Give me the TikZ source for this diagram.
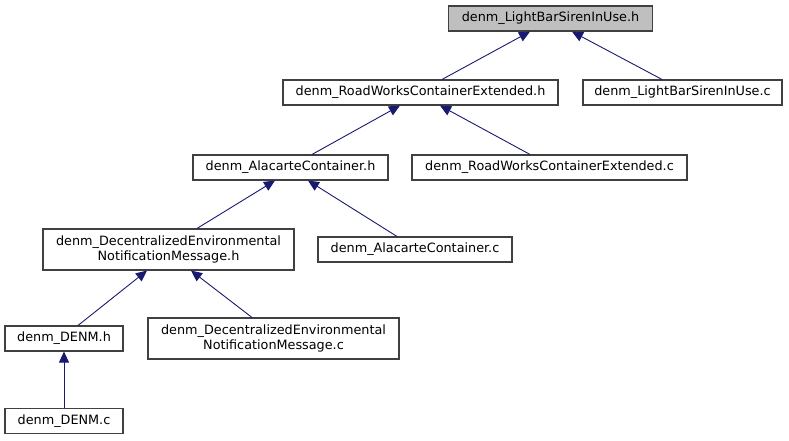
\documentclass[tikz,border=0pt]{standalone}
\usepackage{fontspec}
\setmainfont{DejaVu Sans}
\usetikzlibrary{arrows.meta}
\definecolor{edgeblue}{HTML}{191970}
\definecolor{boxgray}{HTML}{BFBFBF}
\begin{document}
\begin{tikzpicture}[x=1pt,y=-1pt,
  box/.style={draw=black!75,line width=1.1pt,fill=white,inner sep=0pt,align=center,
    font=\fontsize{12.8}{14.8}\selectfont},
  one/.style={box,minimum height=25pt},
  two/.style={box,minimum height=41pt},
  edge/.style={draw=edgeblue,line width=0.9pt,-{Triangle[length=11pt,width=10pt]}}]
\path[use as bounding box] (0,0) rectangle (789,440);
\node[one,fill=boxgray,minimum width=204pt] (top) at (550.5,18.5) {denm\_LightBarSirenInUse.h};
\node[one,minimum width=275pt] (rwceh) at (420.5,92.5) {denm\_RoadWorksContainerExtended.h};
\node[one,minimum width=199pt] (lbsc) at (682.5,92.5) {denm\_LightBarSirenInUse.c};
\node[one,minimum width=195pt] (alach) at (290.5,167.5) {denm\_AlacarteContainer.h};
\node[one,minimum width=275pt] (rwcec) at (549.5,167.5) {denm\_RoadWorksContainerExtended.c};
\node[two,minimum width=251pt] (denh) at (168.5,249.5) {denm\_DecentralizedEnvironmental\\NotificationMessage.h};
\node[one,minimum width=194pt] (alacc) at (415,249.5) {denm\_AlacarteContainer.c};
\node[one,minimum width=118pt] (denmh) at (64,338.5) {denm\_DENM.h};
\node[two,minimum width=251pt] (denc) at (273.5,338.5) {denm\_DecentralizedEnvironmental\\NotificationMessage.c};
\node[one,minimum width=118pt] (denmc) at (64,421) {denm\_DENM.c};
\draw[edge] ([xshift=21.5pt]rwceh.north) -- ([xshift=-20.5pt]top.south);
\draw[edge] ([xshift=-20.5pt]lbsc.north) -- ([xshift=21.5pt]top.south);
\draw[edge] ([xshift=21.5pt]alach.north) -- ([xshift=-20.5pt]rwceh.south);
\draw[edge] ([xshift=-19.5pt]rwcec.north) -- ([xshift=19.5pt]rwceh.south);
\draw[edge] ([xshift=28.5pt]denh.north) -- ([xshift=-15.5pt]alach.south);
\draw[edge] ([xshift=-18pt]alacc.north) -- ([xshift=17.5pt]alach.south);
\draw[edge] ([xshift=14pt]denmh.north) -- ([xshift=-21.5pt]denh.south);
\draw[edge] ([xshift=-21.5pt]denc.north) -- ([xshift=22.5pt]denh.south);
\draw[edge] (denmc.north) -- (denmh.south);
\end{tikzpicture}
\end{document}
